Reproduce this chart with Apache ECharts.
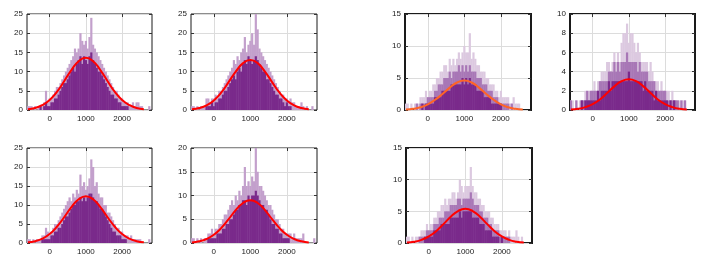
<!DOCTYPE html>
<html><head><meta charset="utf-8">
<script src="https://cdn.jsdelivr.net/npm/echarts@6/dist/echarts.min.js"></script>
<style>html,body{margin:0;padding:0;background:#fff}#c{width:706px;height:266px}</style>
</head><body><div id="c"></div>
<script>
// histogram bin centres (bin width 50)
const binCenters = [-600,-550,-500,-450,-400,-350,-300,-250,-200,-150,-100,-50,0,50,100,150,200,250,300,350,400,450,500,550,600,650,700,750,800,850,900,950,1000,1050,1100,1150,1200,1250,1300,1350,1400,1450,1500,1550,1600,1650,1700,1750,1800,1850,1900,1950,2000,2050,2100,2150,2200,2250,2300,2350,2400,2450,2500,2550,2600,2650,2700,2750,2800];
const xTicks = [0, 1000, 2000];
const curveX = [-600,-400,-200,0,200,400,600,800,1000,1200,1400,1600,1800,2000,2200,2400,2600];

// panel 1
const p1Dark  = [0,0,0,0,0,0,0,1,0,1,2,1,1,2,2,3,3,4,5,6,7,7,8,9,10,11,10,12,13,14,12,14,13,12,14,15,13,12,11,10,10,9,8,7,6,5,4,4,3,3,2,2,1,1,1,1,0,0,0,0,0,0,0,0,0,0,0,0,0];
const p1Light = [1,1,1,0,1,0,1,1,1,2,5,2,3,3,4,5,6,6,7,8,9,10,11,12,13,14,16,15,16,20,18,17,18,16,19,24,17,16,15,14,13,12,11,10,9,8,7,6,5,5,4,3,3,2,2,2,1,1,2,1,2,2,1,1,0,0,0,1,0];
const p1Curve = [0.2,0.5,1.3,2.6,4.7,7.5,10.4,12.7,13.6,12.7,10.4,7.5,4.7,2.6,1.3,0.5,0.2];
// panel 2
const p2Dark  = [0,0,0,0,0,0,0,0,1,1,1,2,1,2,2,3,3,4,5,5,6,7,8,9,8,10,11,10,12,13,12,14,13,12,13,14,13,12,11,10,10,8,8,7,6,5,4,4,3,3,2,1,2,1,1,0,0,0,0,0,0,0,0,0,0,0,0,0,0];
const p2Light = [1,1,0,1,0,1,1,1,3,3,2,3,3,4,3,5,5,6,7,8,9,10,11,13,12,14,13,15,16,19,15,17,18,20,17,25,21,16,15,14,13,12,11,10,9,8,7,6,5,4,4,3,3,2,3,2,2,1,1,1,2,1,0,1,0,0,1,0,0];
const p2Curve = [0.2,0.5,1.2,2.5,4.5,7.2,10.0,12.2,13.0,12.2,10.0,7.2,4.5,2.5,1.2,0.5,0.2];
// panel 3
const p3Dark  = [0,0,0,0,0,0,0,0,0,1,0,1,1,1,1,1,2,2,2,2,3,3,3,3,3,4,4,4,4,4,4,5,4,5,4,5,4,4,4,3,3,3,3,2,2,2,2,1,1,1,1,1,1,0,0,0,0,0,0,0,0,0,0,0,0,0,0,0,0];
const p3Mid   = [0,0,0,0,0,0,1,0,1,1,1,1,2,2,2,2,3,3,4,4,4,5,5,5,6,5,6,6,6,7,6,7,6,7,6,7,6,6,6,5,5,5,4,4,4,3,3,3,2,2,2,1,1,1,1,1,1,0,1,0,0,0,0,0,0,0,0,0,0];
const p3Light = [1,1,0,1,0,1,1,1,2,2,2,3,2,3,3,4,4,5,5,6,6,7,7,6,8,7,8,7,8,9,8,9,10,9,9,12,8,9,8,7,7,6,6,6,5,5,4,4,4,3,3,2,3,2,2,2,2,1,1,2,1,1,1,0,0,0,0,0,0];
const p3Curve = [0.07,0.18,0.43,0.88,1.6,2.5,3.5,4.3,4.6,4.3,3.5,2.5,1.6,0.88,0.43,0.18,0.07];
// panel 4
const p4Dark  = [0,0,0,0,0,0,1,0,1,1,1,1,1,1,1,2,1,2,2,2,2,3,2,3,3,3,3,3,3,3,3,3,4,3,3,3,3,3,3,3,2,3,2,2,2,2,1,2,1,1,1,1,1,1,0,1,0,1,0,0,0,0,0,0,0,0,0,0,0];
const p4Mid   = [1,0,0,1,0,0,1,1,1,2,1,2,2,2,2,2,3,3,3,3,3,4,4,4,5,4,5,4,5,5,5,6,5,5,5,5,5,4,5,4,4,4,4,3,3,3,3,2,2,2,2,2,2,1,1,1,1,1,1,1,0,1,0,1,0,0,0,0,0];
const p4Light = [1,1,0,1,0,1,1,1,2,2,2,2,2,3,2,3,3,4,4,4,5,5,4,5,6,5,6,5,7,8,8,9,7,8,8,7,6,7,6,5,5,5,5,4,5,4,3,3,3,2,3,2,2,2,2,1,2,1,1,1,1,1,1,1,0,0,0,0,0];
const p4Curve = [0.05,0.12,0.3,0.61,1.1,1.76,2.46,3.0,3.2,3.0,2.46,1.76,1.1,0.61,0.3,0.12,0.05];
// panel 5
const p5Dark  = [0,0,0,0,0,0,0,0,1,1,1,1,1,2,2,3,3,4,4,5,6,7,7,8,9,10,10,11,11,12,11,12,11,12,13,13,12,11,11,10,9,9,8,7,6,5,4,3,3,2,2,2,1,1,1,0,0,0,0,0,0,0,0,0,0,0,0,0,0];
const p5Light = [1,1,0,1,0,1,1,1,2,2,4,3,2,3,4,5,5,6,7,8,9,10,11,12,11,13,12,14,13,18,15,16,14,15,17,22,20,15,16,13,12,12,10,10,8,8,7,6,5,4,4,3,3,2,2,2,1,2,1,1,1,1,1,0,0,0,0,1,0];
const p5Curve = [0.18,0.48,1.14,2.36,4.27,6.78,9.45,11.5,12.3,11.5,9.45,6.78,4.27,2.36,1.14,0.48,0.18];
// panel 6
const p6Dark  = [0,0,0,0,0,0,0,0,0,1,1,1,1,1,2,2,2,3,3,4,4,5,5,6,7,7,8,8,9,9,8,10,9,10,10,11,10,9,8,8,7,7,6,5,4,4,3,3,2,2,1,1,1,1,0,0,0,0,0,0,0,0,0,0,0,0,0,0,0];
const p6Light = [1,1,0,1,0,1,0,1,1,2,2,3,2,3,3,4,4,5,6,6,7,8,9,8,10,9,11,10,12,16,12,13,12,14,13,20,15,12,12,11,10,9,8,8,7,6,5,5,4,3,3,2,2,2,2,1,2,1,1,1,1,2,0,0,0,0,0,1,0];
const p6Curve = [0.13,0.35,0.84,1.73,3.12,4.96,6.91,8.42,9.0,8.42,6.91,4.96,3.12,1.73,0.84,0.35,0.13];
// panel 7
const p7Dark  = [0,0,0,0,0,0,0,0,0,0,1,1,1,1,1,2,2,2,2,3,3,3,3,3,4,4,4,4,4,5,4,5,5,5,5,5,4,4,4,4,3,3,3,2,2,2,2,1,1,1,1,0,1,0,0,0,0,0,0,0,0,0,0,0,0,0,0,0,0];
const p7Mid   = [0,0,0,0,0,0,0,1,1,1,1,2,2,2,2,3,3,3,4,4,4,5,5,5,6,6,6,6,7,7,6,7,7,7,7,8,7,6,6,6,5,5,4,4,4,3,3,2,2,2,2,1,1,1,1,1,1,0,0,0,0,0,0,0,0,0,0,0,0];
const p7Light = [1,1,0,1,0,1,1,1,2,2,2,3,2,3,3,4,4,5,5,6,6,7,6,7,7,8,8,7,8,10,9,8,9,9,9,12,9,8,8,7,7,6,6,5,5,5,4,4,3,3,3,2,2,2,2,1,2,1,1,1,2,1,0,1,0,0,0,0,0];
const p7Curve = [0.08,0.21,0.5,1.04,1.87,2.98,4.15,5.05,5.4,5.05,4.15,2.98,1.87,1.04,0.5,0.21,0.08];

const DARK = '#7a2a8b', MID = '#a877b6', LIGHT = '#c3a0cc', FAINT = '#dcc9e0';
const panels = [
  {grid:{left:27,top:14,width:125,height:96}, yMax:25, yStep:5, layers:[[p1Light,LIGHT],[p1Dark,DARK]], curve:p1Curve, cc:'#ff0000', frame:1},
  {grid:{left:191,top:14,width:126,height:96}, yMax:25, yStep:5, layers:[[p2Light,LIGHT],[p2Dark,DARK]], curve:p2Curve, cc:'#ff0000', frame:1},
  {grid:{left:405,top:14,width:126,height:96}, yMax:15, yStep:5, layers:[[p3Light,FAINT],[p3Mid,MID],[p3Dark,DARK]], curve:p3Curve, cc:'#ff6426', frame:2},
  {grid:{left:570,top:14,width:125,height:96}, yMax:10, yStep:2, layers:[[p4Light,FAINT],[p4Mid,MID],[p4Dark,DARK]], curve:p4Curve, cc:'#ff0000', frame:2},
  {grid:{left:27,top:148,width:125,height:95}, yMax:25, yStep:5, layers:[[p5Light,LIGHT],[p5Dark,DARK]], curve:p5Curve, cc:'#ff0000', frame:1},
  {grid:{left:191,top:148,width:126,height:95}, yMax:20, yStep:5, layers:[[p6Light,LIGHT],[p6Dark,DARK]], curve:p6Curve, cc:'#ff0000', frame:1},
  {grid:{left:406,top:148,width:126,height:95}, yMax:15, yStep:5, layers:[[p7Light,FAINT],[p7Mid,MID],[p7Dark,DARK]], curve:p7Curve, cc:'#ff0000', frame:2}
];

const grids = [], xAxes = [], yAxes = [], series = [];
const FONT = {fontSize: 8, color: '#1a1a1a', fontFamily: 'Liberation Sans, Arial, sans-serif', formatter: v => String(v)};
const noLine = {show:false, onZero:false};
panels.forEach((p, k) => {
  grids.push(Object.assign({show:true, borderColor:'#1a1a1a', borderWidth:p.frame, backgroundColor:'#fff', containLabel:false}, p.grid));
  const xMin = -625, xMax = 2825;
  xAxes.push({gridIndex:k, type:'category', data:binCenters, show:false, boundaryGap:true, axisLine:noLine});
  xAxes.push({gridIndex:k, type:'value', min:xMin, max:xMax, position:'bottom',
    axisLine:noLine,
    axisTick:{show:true, inside:true, length:3, customValues:xTicks, lineStyle:{color:'#333'}},
    axisLabel:Object.assign({customValues:xTicks, margin:5}, FONT),
    splitLine:{show:true, lineStyle:{color:'#dcdcdc', width:1}}});
  xAxes.push({gridIndex:k, type:'value', min:xMin, max:xMax, position:'top',
    axisLine:noLine,
    axisTick:{show:true, inside:true, length:3, customValues:xTicks, lineStyle:{color:'#333'}},
    axisLabel:{show:false}, splitLine:{show:false}});
  yAxes.push({gridIndex:k, type:'value', min:0, max:p.yMax, interval:p.yStep, position:'left',
    axisLine:noLine,
    axisTick:{show:true, inside:true, length:3, lineStyle:{color:'#333'}},
    axisLabel:Object.assign({margin:4}, FONT),
    splitLine:{show:true, lineStyle:{color:'#dcdcdc', width:1}}});
  yAxes.push({gridIndex:k, type:'value', min:0, max:p.yMax, interval:p.yStep, position:'right',
    axisLine:noLine,
    axisTick:{show:true, inside:true, length:3, lineStyle:{color:'#333'}},
    axisLabel:{show:false}, splitLine:{show:false}});
  p.layers.forEach(([vals, col]) => {
    series.push({type:'bar', xAxisIndex:3*k, yAxisIndex:2*k, data:vals, barWidth:2.2, barGap:'-100%',
      itemStyle:{color:col}, silent:true, z:2});
  });
  series.push({type:'line', xAxisIndex:3*k+1, yAxisIndex:2*k, data:curveX.map((x,i)=>[x, p.curve[i]]),
    smooth:0.5, showSymbol:false, lineStyle:{color:p.cc, width:2}, silent:true, z:5});
});

const chart = echarts.init(document.getElementById('c'), null, {renderer:'canvas'});
chart.setOption({animation:false, grid:grids, xAxis:xAxes, yAxis:yAxes, series:series});
</script>
</body></html>
